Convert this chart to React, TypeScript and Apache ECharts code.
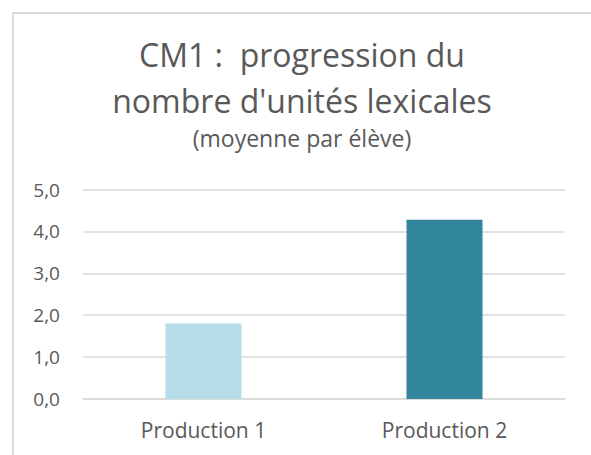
import React, { useEffect, useRef } from "react";
import * as echarts from "echarts";

const categories = ["Production 1", "Production 2"];
const values = [1.8, 4.28];
const barColors = ["#B7DEE8", "#31859C"];
const yTicks = { min: 0, max: 5, interval: 1 };
const titleLines = ["CM1 :  progression du", "nombre d'unités lexicales"];
const subtitle = "(moyenne par élève)";

export default function App() {
  const ref = useRef<HTMLDivElement>(null);
  useEffect(() => {
    if (!ref.current) return;
    const chart = echarts.init(ref.current, undefined, { renderer: "svg" });
    const font = "'Open Sans', 'Segoe UI', sans-serif";
    chart.setOption({
      animation: false,
      backgroundColor: "#ffffff",
      textStyle: { fontFamily: font },
      title: [
        {
          text: titleLines.join("\n"),
          left: 302,
          top: 31,
          padding: 0,
          textAlign: "center",
          textStyle: {
            fontFamily: font,
            fontSize: 32,
            fontWeight: "normal",
            color: "#595959",
            lineHeight: 46,
          },
        },
        {
          text: subtitle,
          left: 302,
          top: 125,
          padding: 0,
          textAlign: "center",
          textStyle: {
            fontFamily: font,
            fontSize: 23,
            fontWeight: "normal",
            color: "#595959",
            lineHeight: 26,
          },
        },
      ],
      graphic: [
        {
          type: "rect",
          shape: { x: 13, y: 13, width: 700, height: 600 },
          style: { fill: "none", stroke: "#D9D9D9", lineWidth: 2 },
          silent: true,
        },
      ],
      grid: { left: 83, right: 26, top: 189.5, bottom: 56, containLabel: false },
      xAxis: {
        type: "category",
        data: categories,
        axisLine: { show: true, lineStyle: { color: "#D9D9D9", width: 1.5 } },
        axisTick: { show: false },
        axisLabel: {
          color: "#595959",
          fontSize: 21,
          fontFamily: font,
          margin: 20,
        },
      },
      yAxis: {
        type: "value",
        min: yTicks.min,
        max: yTicks.max,
        interval: yTicks.interval,
        axisLine: { show: false },
        axisTick: { show: false },
        splitLine: { lineStyle: { color: "#D9D9D9", width: 1.5 } },
        axisLabel: {
          color: "#595959",
          fontSize: 19,
          fontFamily: font,
          margin: 23,
          formatter: (v: number) => v.toFixed(1).replace(".", ","),
        },
      },
      series: [
        {
          type: "bar",
          data: values.map((v, i) => ({ value: v, itemStyle: { color: barColors[i] } })),
          barWidth: 76,
        },
      ],
    });
    return () => chart.dispose();
  }, []);
  return (
    <div
      ref={ref}
      style={{ position: "fixed", left: 0, top: 0, width: 591, height: 455 }}
    />
  );
}
